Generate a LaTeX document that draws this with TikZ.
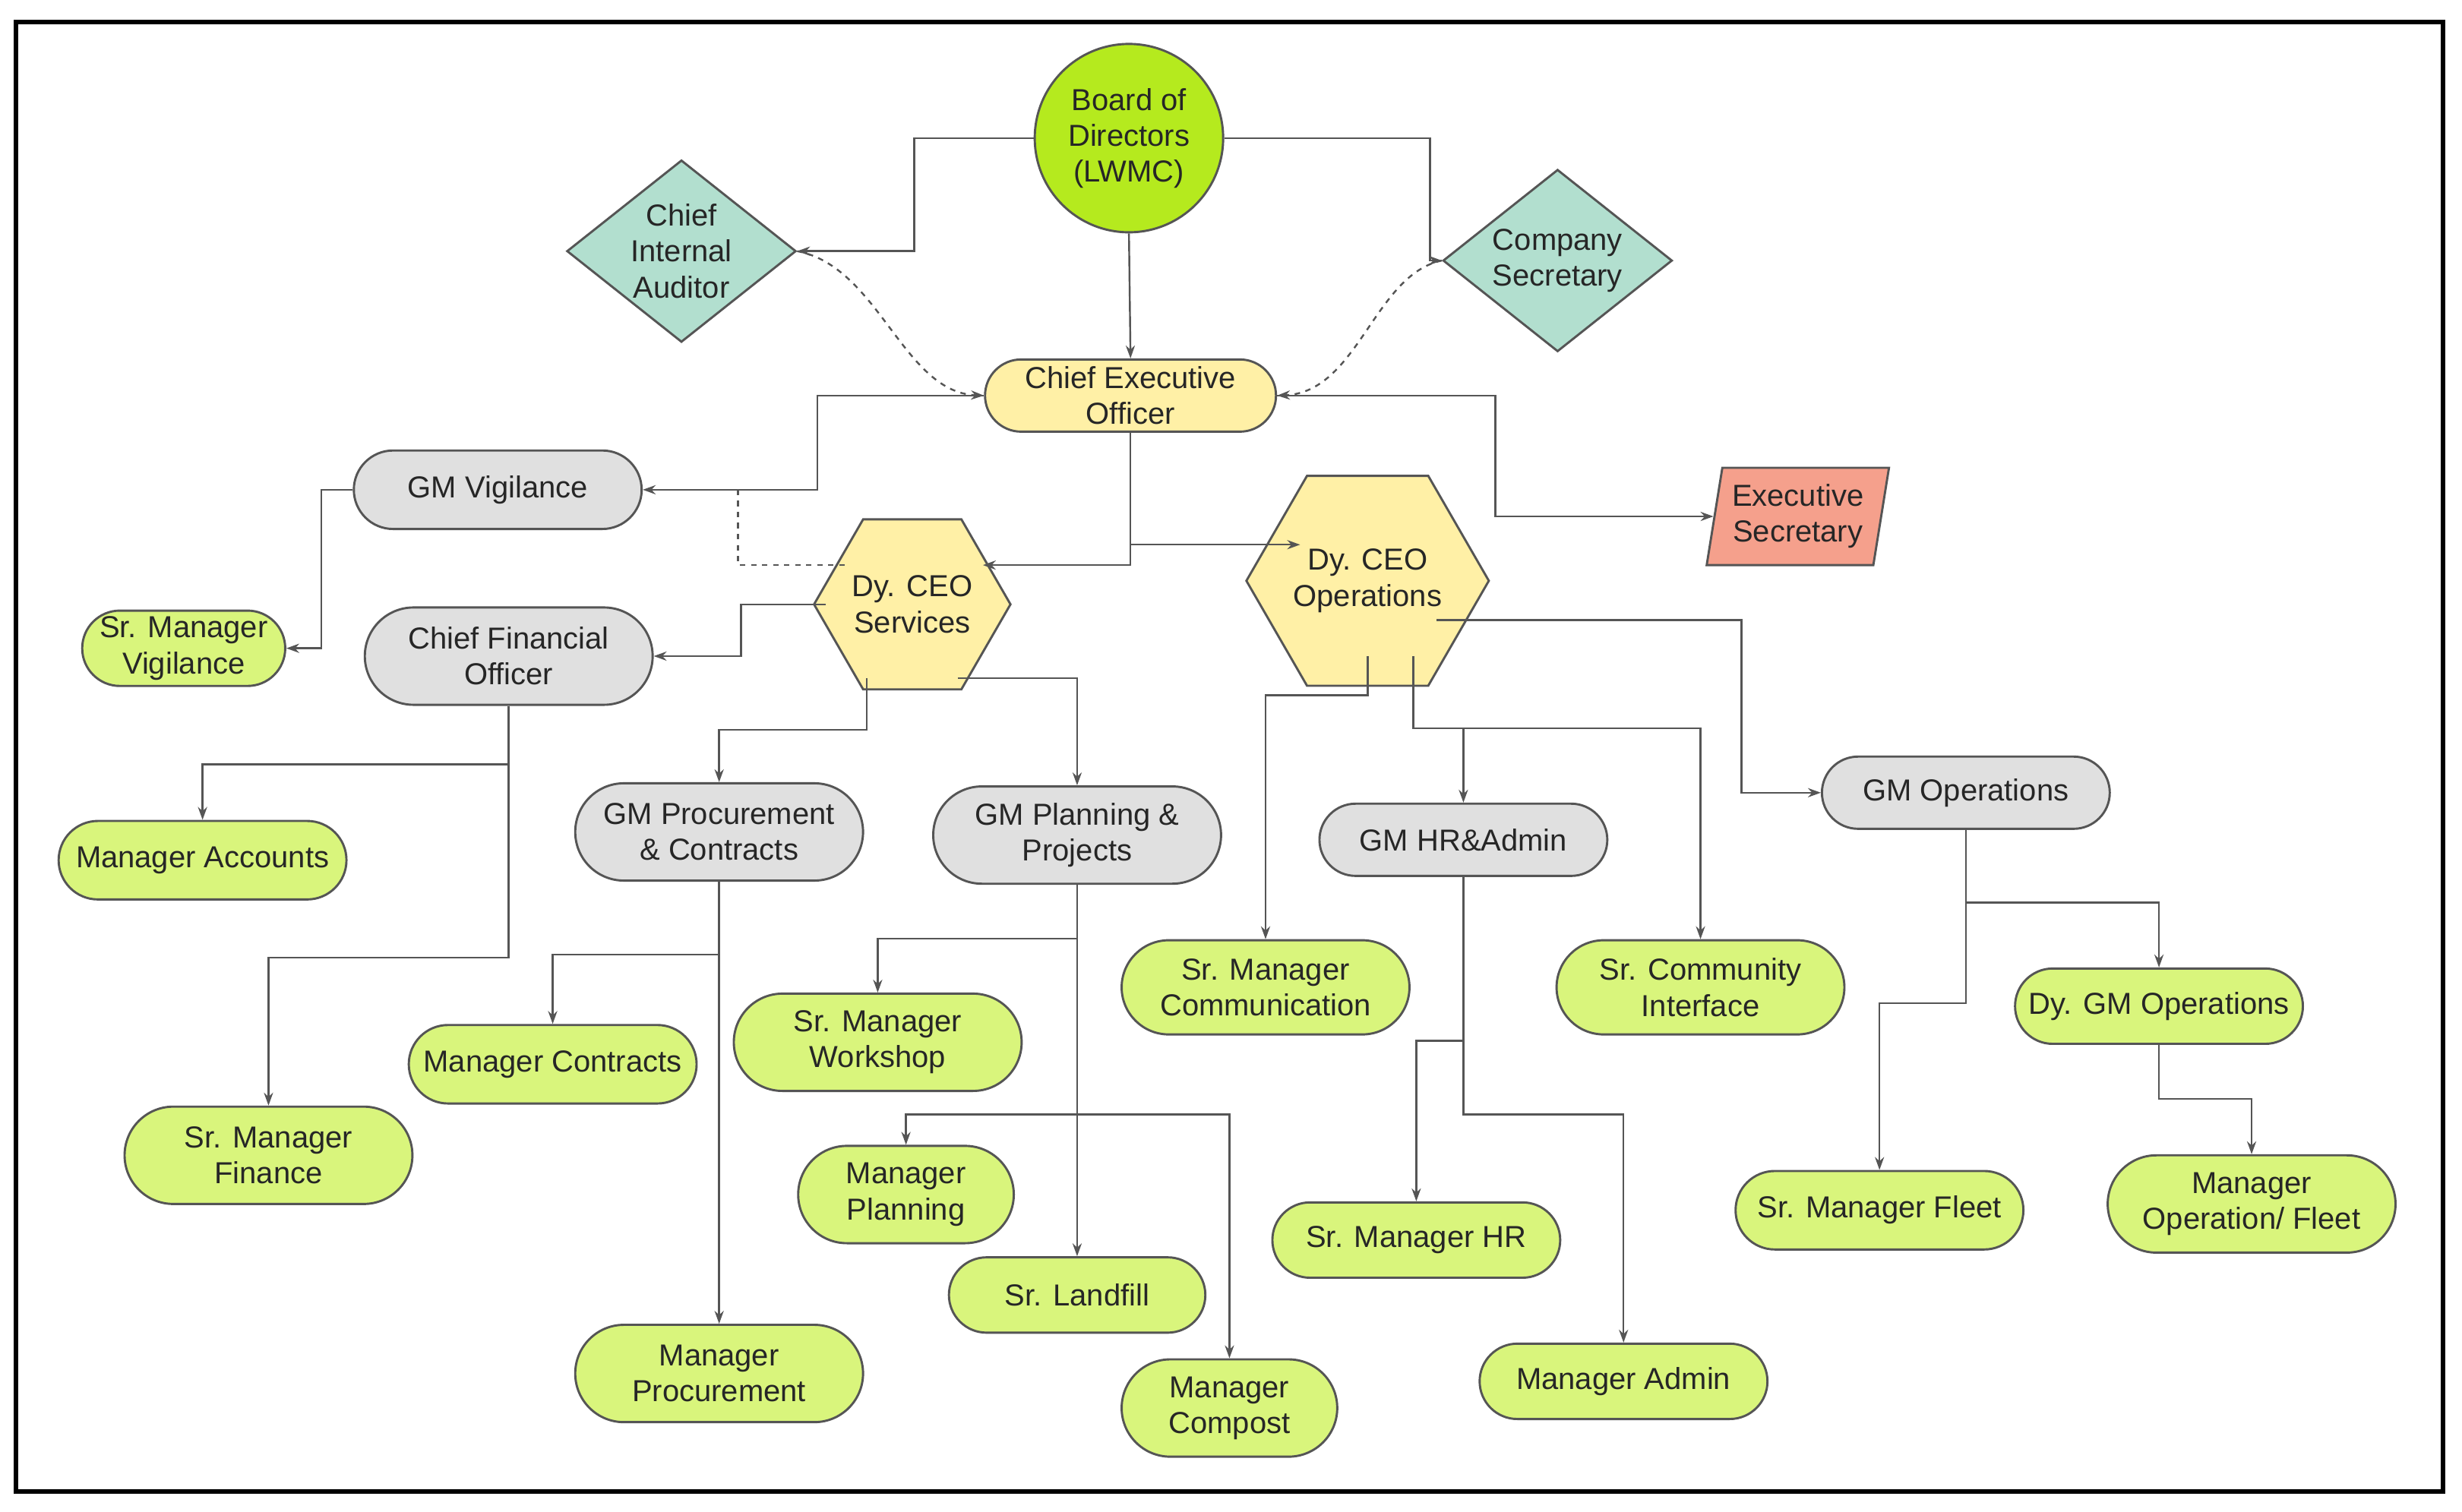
\documentclass[tikz,border=0pt]{standalone}
\usepackage{fontspec}
\setmainfont{Liberation Sans}
\usetikzlibrary{shapes.geometric,shapes.misc,arrows.meta}
\definecolor{bgreen}{HTML}{B5EA1E}
\definecolor{lgreen}{HTML}{D9F57C}
\definecolor{lgray}{HTML}{E0E0E0}
\definecolor{lyel}{HTML}{FFF0A6}
\definecolor{teal}{HTML}{B2DFCF}
\definecolor{salm}{HTML}{F5A08C}
\definecolor{edge}{HTML}{555555}
\begin{document}
\begin{tikzpicture}[x=0.03cm,y=-0.03cm,
  every node/.style={font=\fontsize{16.5}{19.5}\selectfont,text=black!85,draw=edge,line width=1.2pt,align=center},
  rr/.style n args={3}{rounded rectangle,fill=#1,minimum width=#2*0.03cm,minimum height=#3*0.03cm,inner sep=2pt},
  g/.style 2 args={rr={lgreen}{#1}{#2}},
  gy/.style 2 args={rr={lgray}{#1}{#2}},
  hex/.style={regular polygon,regular polygon sides=6,minimum size=112*0.03cm,inner sep=0pt,fill=lyel},
  dia/.style={diamond,minimum width=146*0.03cm,minimum height=116*0.03cm,inner sep=0pt,fill=teal},
  arr/.style={draw=edge,line width=1pt,-{Stealth[length=7pt,width=5pt]}},
  ln/.style={draw=edge,line width=1pt},
  dsh/.style={draw=edge,line width=1pt,dashed}]
\useasboundingbox (0,0) rectangle (1568,963);
\draw[line width=2.4pt] (10,14) rectangle (1556,950);

\node[circle,fill=bgreen,minimum size=120*0.03cm,inner sep=0pt] (board) at (719,88) {Board of\\Directors\\(LWMC)};
\node[dia,label={[draw=none]center:Chief\\Internal\\Auditor}] (aud) at (434,160) {};
\node[dia,label={[draw=none]center:Company\\Secretary}] (sec) at (992,166) {};
\node[rr={lyel}{190}{46}] (ceo) at (720,252) {Chief Executive\\Officer};
\node[gy={188}{50}] (gmv) at (317,312) {GM Vigilance};
\node[trapezium,trapezium left angle=78,trapezium right angle=102,trapezium stretches=true,fill=salm,minimum width=117*0.03cm,minimum height=62*0.03cm,inner sep=0pt] (exs) at (1145,329) {Executive\\Secretary};
\node[hex] (dcs) at (581,385) {Dy. CEO\\Services};
\node[hex] (dco) at (871,370) {Dy. CEO\\Operations};
\node[g={134}{48}] (smv) at (117,413) {Sr. Manager\\Vigilance};
\node[gy={188}{62}] (cfo) at (324,418) {Chief Financial\\Officer};
\node[g={188}{50}] (mac) at (129,548) {Manager Accounts};
\node[gy={188}{62}] (gmp) at (458,530) {GM Procurement\\\& Contracts};
\node[gy={188}{62}] (gpl) at (686,532) {GM Planning \&\\Projects};
\node[gy={188}{46}] (ghr) at (932,535) {GM HR\&Admin};
\node[gy={188}{46}] (gop) at (1252,505) {GM Operations};
\node[g={188}{60}] (smc) at (806,629) {Sr. Manager\\Communication};
\node[g={188}{60}] (sci) at (1083,629) {Sr. Community\\Interface};
\node[g={188}{48}] (dgo) at (1375,641) {Dy. GM Operations};
\node[g={188}{50}] (mco) at (352,678) {Manager Contracts};
\node[g={188}{62}] (smw) at (559,664) {Sr. Manager\\Workshop};
\node[g={188}{62}] (smf) at (171,736) {Sr. Manager\\Finance};
\node[g={142}{62}] (mpl) at (577,761) {Manager\\Planning};
\node[g={168}{48}] (slf) at (686,825) {Sr. Landfill};
\node[g={188}{62}] (mpr) at (458,875) {Manager\\Procurement};
\node[g={142}{62}] (mcm) at (783,897) {Manager\\Compost};
\node[g={188}{48}] (shr) at (902,790) {Sr. Manager HR};
\node[g={188}{48}] (mad) at (1034,880) {Manager Admin};
\node[g={188}{50}] (sfl) at (1197,771) {Sr. Manager Fleet};
\node[g={188}{62}] (mof) at (1434,767) {Manager\\Operation/ Fleet};

\draw[arr] (board.west) -- ++(-76,0) |- (aud.east);
\draw[arr] (board.east) -- ++(131,0) |- (sec.west);
\draw[arr] (board.south) -- (ceo.north);
\draw[dsh,-{Stealth[length=7pt,width=5pt]}] (aud.east) .. controls (560,170) and (575,250) .. (ceo.west);
\draw[dsh,-{Stealth[length=7pt,width=5pt]}] (sec.west) .. controls (875,175) and (865,250) .. (ceo.east);
\draw[arr] (ceo.west) -- ++(-106,0) |- (gmv.east);
\draw[arr] (ceo.east) -- ++(139,0) |- (exs.west);
\draw[arr] (ceo.south) -- (720,360) -- (626,360);
\draw[arr] (720,347) -- (828,347);
\draw[dsh] (470,312) -- (470,360) -- (540,360);
\draw[arr] (gmv.west) -- ++(-20,0) |- (smv.east);
\draw[arr] (526,385) -- (472,385) |- (cfo.east);
\draw[arr] (552,432) -- (552,465) -| (gmp.north);
\draw[arr] (610,432) -| (gpl.north);
\draw[arr] (cfo.south) -- (324,487) -| (mac.north);
\draw[arr] (324,487) -- (324,610) -| (smf.north);
\draw[arr] (gmp.south) -- (458,608) -| (mco.north);
\draw[arr] (gmp.south) -- (mpr.north);
\draw[arr] (gpl.south) -- (686,598) -| (smw.north);
\draw[arr] (gpl.south) -- (slf.north);
\draw[arr] (686,710) -| (mpl.north);
\draw[arr] (686,710) -| (mcm.north);
\draw[arr] (871,418) -- (871,443) -| (smc.north);
\draw[arr] (900,418) -- (900,464) -| (sci.north);
\draw[arr] (932,464) -- (ghr.north);
\draw[arr] (915,395) -- (1109,395) |- (gop.west);
\draw[arr] (gop.south) -- (1252,639) -| (sfl.north);
\draw[arr] (1252,575) -| (dgo.north);
\draw[arr] (dgo.south) -- (1375,700) -| (mof.north);
\draw[arr] (ghr.south) -- (932,663) -| (shr.north);
\draw[arr] (932,663) -- (932,710) -| (mad.north);
\end{tikzpicture}
\end{document}
